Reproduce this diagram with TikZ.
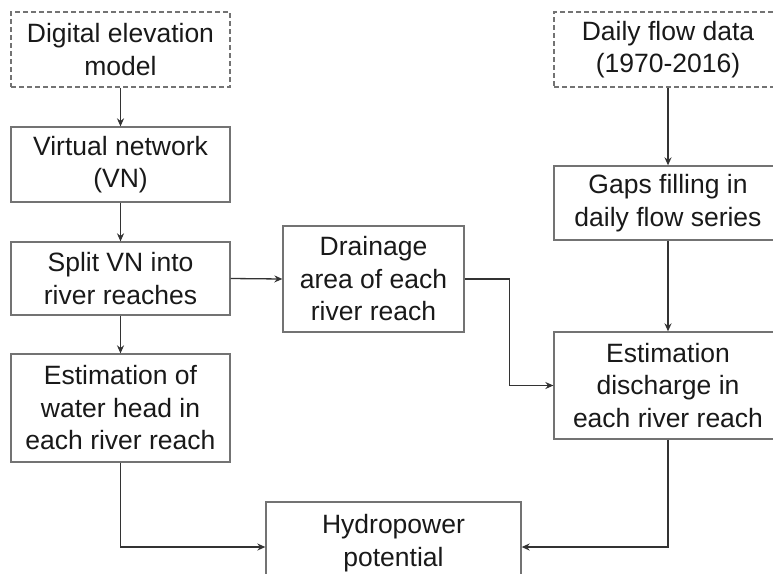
\documentclass[tikz,border=0pt]{standalone}
\usepackage{fontspec}
\setmainfont{Liberation Sans}
\usetikzlibrary{arrows.meta}
\begin{document}
\begin{tikzpicture}[x=1pt,y=-1pt,
  box/.style={draw=black!55, line width=1.3pt, rectangle, align=center, inner sep=0pt,
    font=\fontsize{26.5}{32.5}\selectfont, text=black!90},
  srcbox/.style={box, dash pattern=on 5pt off 3pt},
  conn/.style={draw=black!80, line width=1.3pt, -{Stealth[length=8pt,width=7pt]}},
  plain/.style={draw=black!80, line width=1.3pt}]
\useasboundingbox (0,0) rectangle (773,573);
\begin{scope}
\clip (0,0) rectangle (773,573);
\node[srcbox, minimum width=219pt, minimum height=75pt] (dem) at (120.5,49.5) {Digital elevation\\model};
\node[box, minimum width=219pt, minimum height=75pt] (vn) at (120.5,164.5) {Virtual network\\(VN)};
\node[box, minimum width=219pt, minimum height=73pt] (split) at (120.5,278.5) {Split VN into\\river reaches};
\node[box, minimum width=219pt, minimum height=108pt] (head) at (120.5,408) {Estimation of\\water head in\\each river reach};
\node[box, minimum width=181pt, minimum height=106pt] (drain) at (373.5,279) {Drainage\\area of each\\river reach};
\node[srcbox, minimum width=228pt, minimum height=75pt] (daily) at (668,49.5) {Daily flow data\\(1970-2016)};
\node[box, minimum width=228pt, minimum height=74pt] (gaps) at (668,203) {Gaps filling in\\daily flow series};
\node[box, minimum width=228pt, minimum height=107pt] (disc) at (668,385.5) {Estimation\\discharge in\\each river reach};
\node[box, minimum width=255pt, minimum height=82pt] (hydro) at (393.5,543) {Hydropower\\potential};
\end{scope}
\draw[conn] (dem) -- (vn);
\draw[conn] (vn) -- (split);
\draw[conn] (split) -- (head);
\draw[conn] (split.east) -- (drain.west);
\draw[conn] (drain.east) -- ++(45,0) |- (disc.west);
\draw[conn] (daily) -- (gaps);
\draw[conn] (gaps) -- (disc);
\draw[conn] (head.south) |- ([yshift=-4pt]hydro.west);
\draw[conn] (disc.south) |- ([yshift=-4pt]hydro.east);
\end{tikzpicture}
\end{document}
